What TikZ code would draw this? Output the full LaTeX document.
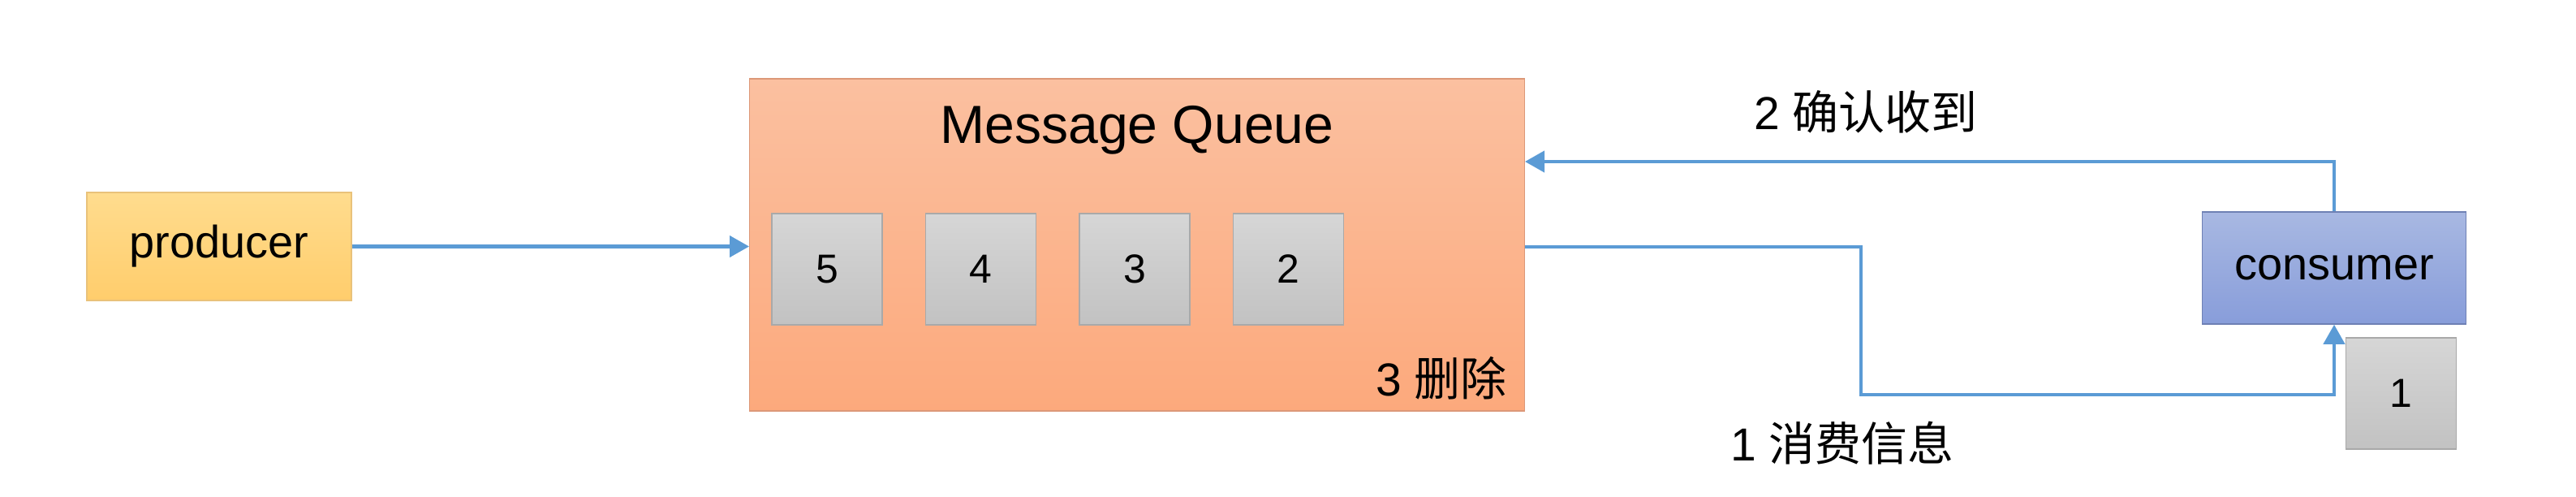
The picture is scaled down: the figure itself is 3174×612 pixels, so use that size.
\documentclass[tikz,border=0pt]{standalone}
\usepackage{fontspec}
\setmainfont{Liberation Sans}
\newfontfamily\cjk{Noto Sans CJK SC}
\usepackage{tikz}
\usetikzlibrary{arrows.meta, positioning}
\usepackage{xcolor}

\definecolor{prodtop}{HTML}{FFDC8E}
\definecolor{prodbot}{HTML}{FFCD6C}
\definecolor{prodline}{HTML}{E9C27A}
\definecolor{mqtop}{HTML}{FBC0A0}
\definecolor{mqbot}{HTML}{FCA97C}
\definecolor{mqline}{HTML}{DC9878}
\definecolor{constop}{HTML}{A8B8E2}
\definecolor{consbot}{HTML}{889DDA}
\definecolor{consline}{HTML}{6E80B4}
\definecolor{msgtop}{HTML}{D6D6D6}
\definecolor{msgbot}{HTML}{C2C2C2}
\definecolor{msgline}{HTML}{A9A9A9}
\definecolor{flowblue}{HTML}{5B9BD5}

\tikzset{
  producerbox/.style={draw=prodline, top color=prodtop, bottom color=prodbot,
    minimum width=3.26cm, minimum height=1.33cm, font=\fontsize{15.9}{18}\selectfont},
  queuebox/.style={draw=mqline, top color=mqtop, bottom color=mqbot,
    minimum width=9.54cm, minimum height=4.09cm},
  consumerbox/.style={draw=consline, top color=constop, bottom color=consbot,
    minimum width=3.25cm, minimum height=1.38cm, font=\fontsize{15.9}{18}\selectfont},
  msgbox/.style={draw=msgline, top color=msgtop, bottom color=msgbot,
    minimum width=1.36cm, minimum height=1.37cm, font=\fontsize{14.2}{17}\selectfont},
  steplabel/.style={font=\fontsize{16.2}{19}\selectfont},
  flow/.style={draw=flowblue, line width=1.15pt, -{Triangle[length=0.24cm, width=0.26cm]}}
}

\begin{document}
\begin{tikzpicture}[x=0.01cm, y=-0.01cm]
  \useasboundingbox (0,0) rectangle (3174,612);

  % producer and queue
  \node[producerbox] (producer) at (270,303.5) {producer};
  \node[queuebox] (mq) at (1401,301.5) {};
  \node[font=\fontsize{18.8}{22}\selectfont] (mqtitle) at (1401,160) {Message Queue};

  % messages waiting in the queue
  \node[msgbox] (m5) at (1019,331.5) {5};
  \node[msgbox, right=0.52cm of m5] (m4) {4};
  \node[msgbox, right=0.52cm of m4] (m3) {3};
  \node[msgbox, right=0.52cm of m3] (m2) {2};
  \node[steplabel] (delete) at (1776,466) {3 {\cjk 删除}};

  % consumer with the message it took
  \node[consumerbox] (consumer) at (2876,330) {consumer};
  \node[msgbox] (m1) at (2958.5,484.5) {1};

  % step labels
  \node[steplabel] (ack) at (2299,138) {2 {\cjk 确认收到}};
  \node[steplabel] (consume) at (2270,546) {1 {\cjk 消费信息}};

  % connectors
  \coordinate (ackturn) at (2876,199);
  \coordinate (outturn) at (2293,304);
  \coordinate (lowturn) at (2293,486);

  \draw[flow] (producer.east) -- (producer.east -| mq.west);
  \draw[flow] (consumer.north) -- (ackturn) -- (ackturn -| mq.east);
  \draw[flow] (outturn -| mq.east) -- (outturn) -- (lowturn) -| (consumer.south);
\end{tikzpicture}
\end{document}
